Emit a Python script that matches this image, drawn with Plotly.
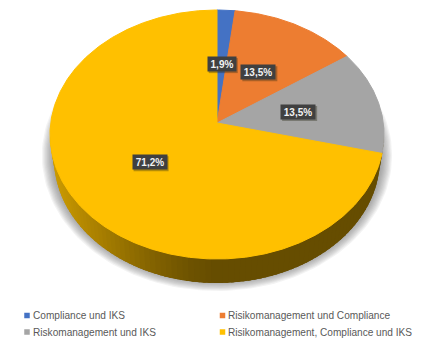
import numpy as np
import plotly.graph_objects as go

categories = ["Compliance und IKS", "Risikomanagement und Compliance",
              "Riskomanagement und IKS", "Risikomanagement, Compliance und IKS"]
values = [1.9, 13.5, 13.5, 71.2]
value_labels = ["1,9%", "13,5%", "13,5%", "71,2%"]
colors = ["#4472C4", "#ED7D31", "#A5A5A5", "#FFC000"]

W, H = 423, 342
CX, CY, RAD, PERSP = 217.0, 123.0, 166.3, 0.0924
YSCALE = 112.08
ECY, ERX, ERY = 134.5, 167.0, 124.5   # outline of the top face
DEPTH, BRX = 24.0, 163.0              # extruded wall


def project(u, v):
    w = 1 + PERSP * v
    return CX + RAD * u / w, (CY - YSCALE * v) / w


def sector(a0, a1):
    t = np.radians(np.linspace(a0, a1, max(3, int(abs(a1 - a0) * 2))))
    x, y = project(np.sin(t), np.cos(t))
    cx, cy = project(0.0, 0.0)
    return np.r_[cx, x, cx], np.r_[cy, y, cy]


def poly(x, y, color):
    return go.Scatter(x=x, y=y, mode="lines", fill="toself", fillcolor=color,
                      line=dict(color=color, width=1), hoverinfo="skip",
                      showlegend=False)


fig = go.Figure()

# soft shadow under the disc
for i in range(10):
    grow = 11 - i * 1.1
    t = np.linspace(0, 2 * np.pi, 180)
    x = CX + (BRX + grow * 1.1) * np.cos(t)
    y = ECY + DEPTH - 3 + (ERY + grow) * np.sin(t)
    fig.add_trace(go.Scatter(x=x, y=y, mode="lines", fill="toself",
                             fillcolor="rgba(90,90,90,0.07)", line=dict(width=0),
                             hoverinfo="skip", showlegend=False))

# wall, shaded from left to right (bands overlap so no seams show)
stops_x = [50, 80, 110, 150, 190, 215, 384]
stops_rgb = np.array([[205, 156, 0], [182, 138, 0], [160, 121, 0],
                      [132, 100, 0], [110, 83, 0], [102, 77, 0], [102, 77, 0]], float)
edges = np.radians(np.linspace(0, 180, 91))
for a, b in zip(edges[:-1], edges[1:]):
    m = ERX * np.cos((a + b) / 2) + CX
    rgb = [np.interp(m, stops_x, stops_rgb[:, k]) for k in range(3)]
    ts = np.linspace(a, b + (edges[1] - edges[0]) * 1.5, 4)
    ts = ts[ts <= np.pi + 1e-9] if b < np.pi else np.array([a, b])
    if len(ts) < 2:
        ts = np.array([a, b])
    xt = CX + ERX * np.cos(ts)
    yt = ECY + ERY * np.sin(ts)
    xb = CX + BRX * np.cos(ts)
    yb = ECY + DEPTH + ERY * np.sin(ts)
    col = "rgb(%d,%d,%d)" % tuple(rgb)
    fig.add_trace(go.Scatter(x=np.r_[xt, xb[::-1], xt[0]], y=np.r_[yt, yb[::-1], yt[0]],
                             mode="lines", fill="toself", fillcolor=col,
                             line=dict(width=0), hoverinfo="skip", showlegend=False))

# top face
shares = np.array(values) / sum(values) * 360
ends = np.cumsum(shares)
starts = ends - shares
for a0, a1, c in zip(starts, ends, colors):
    x, y = sector(a0, a1)
    fig.add_trace(poly(x, y, c))

# value labels
annotations, shapes = [], []
for a0, a1, txt in zip(starts, ends, value_labels):
    m = np.radians((a0 + a1) / 2)
    x, y = project(0.5 * np.sin(m), 0.5 * np.cos(m))
    x, y = float(x), float(y)
    bw = 28 if len(txt) == 4 else 34
    shapes.append(dict(type="rect", x0=x - bw / 2 + 1, x1=x + bw / 2 + 2,
                       y0=y - 6, y1=y + 9, line=dict(width=0),
                       fillcolor="rgba(40,40,20,0.35)", layer="above"))
    annotations.append(dict(x=x, y=y, text="<b>%s</b>" % txt, showarrow=False,
                            width=bw, height=14, bgcolor="#404040", borderpad=0,
                            font=dict(color="#F2F2F2", size=10, family="Liberation Sans")))

# legend
legend_x = [27, 222.5, 27, 222.5]
legend_y = [315.5, 315.5, 332, 332]
for name, c, lx, ly in zip(categories, colors, legend_x, legend_y):
    fig.add_trace(go.Scatter(x=[lx], y=[ly], mode="markers",
                             marker=dict(symbol="square", size=5.5, color=c),
                             hoverinfo="skip", showlegend=False))
    annotations.append(dict(x=lx + 3.5, y=ly, text=name, showarrow=False, xanchor="left",
                            font=dict(color="#595959", size=10.1, family="Liberation Sans")))

fig.update_layout(
    width=W, height=H, margin=dict(l=0, r=0, t=0, b=0),
    paper_bgcolor="white", plot_bgcolor="white", showlegend=False,
    xaxis=dict(range=[0, W], visible=False, fixedrange=True),
    yaxis=dict(range=[H, 0], visible=False, fixedrange=True),
    annotations=annotations, shapes=shapes,
)
fig.write_html("out.html", config={"displayModeBar": False},
               post_script="document.body.style.margin='0';document.body.style.overflow='hidden';")
